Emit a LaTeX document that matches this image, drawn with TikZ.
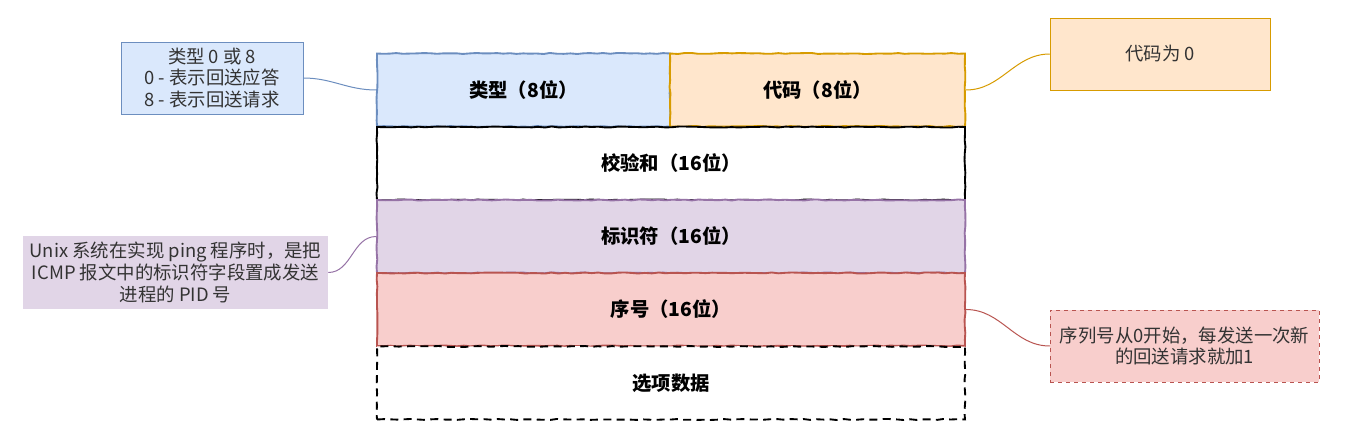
\documentclass[tikz,border=0pt]{standalone}
\usepackage{fontspec}
\newfontfamily\cjk{Noto Sans CJK SC}
\usetikzlibrary{positioning, decorations.pathmorphing}

\definecolor{blueFill}{HTML}{DAE8FC}
\definecolor{blueLine}{HTML}{6C8EBF}
\definecolor{orangeFill}{HTML}{FFE6CC}
\definecolor{orangeLine}{HTML}{D79B00}
\definecolor{purpleFill}{HTML}{E1D5E7}
\definecolor{purpleLine}{HTML}{9673A6}
\definecolor{redFill}{HTML}{F8CECC}
\definecolor{redLine}{HTML}{B85450}

\tikzset{
	field/.style={draw, line width=1.4pt, inner sep=0pt, minimum height=54.75pt,
		font=\cjk\fontsize{14.5pt}{17pt}\selectfont\bfseries,
		decorate, decoration={random steps, segment length=5pt, amplitude=0.4pt}},
	note/.style={inner sep=0pt, align=center, text=black!80,
		font=\cjk\fontsize{13.8pt}{16.3pt}\selectfont},
	link/.style={line width=0.75pt}
}

\begin{document}
\begin{tikzpicture}[x=0.75pt, y=-0.75pt]
				\useasboundingbox (0,0) rectangle (1348,428);
				% header fields
				\node[field, blueLine, fill=blueFill, text=black, minimum width=219.75pt] (type) at (523.5,90) {类型（8位）};
				\node[field, orangeLine, fill=orangeFill, text=black, minimum width=221.25pt] (code) at (817.5,90) {代码（8位）};
				\node[field, black, fill=white, minimum width=441pt] (checksum) at (671,163.5) {校验和（16位）};
				\node[field, purpleLine, fill=purpleFill, text=black, minimum width=441pt] (ident) at (671,236.5) {标识符（16位）};
				\node[field, redLine, fill=redFill, text=black, minimum width=441pt] (seq) at (671,309.5) {序号（16位）};
				\node[field, black, dash pattern=on 6pt off 4pt, fill=white, minimum width=441pt] (options) at (671,383) {选项数据};
				% notes
				\node[note, draw=blueLine, fill=blueFill, minimum width=136.5pt, minimum height=54pt] (typeNote) at (212,78) {类型 0 或 8\\0 - 表示回送应答\\8 - 表示回送请求};
				\node[note, draw=orangeLine, fill=orangeFill, minimum width=165pt, minimum height=54pt] (codeNote) at (1160,54) {代码为 0};
				\node[note, fill=purpleFill, minimum width=228.75pt, minimum height=54.75pt] (identNote) at (175.5,272.5) {Unix 系统在实现 ping 程序时，是把\\ICMP 报文中的标识符字段置成发送\\进程的 PID 号};
				\node[note, draw=redLine, dashed, fill=redFill, minimum width=201.75pt, minimum height=54pt] (seqNote) at (1184.5,346) {序列号从0开始，每发送一次新\\的回送请求就加1};
				% connectors
				\draw[link, blueLine] (typeNote.east) to[out=0, in=180] (type.west);
				\draw[link, orangeLine] (code.east) to[out=0, in=180] (codeNote.west);
				\draw[link, purpleLine] (identNote.east) to[out=0, in=180] (ident.west);
				\draw[link, redLine] (seq.east) to[out=0, in=180] (seqNote.west);
			\end{tikzpicture}
\end{document}
